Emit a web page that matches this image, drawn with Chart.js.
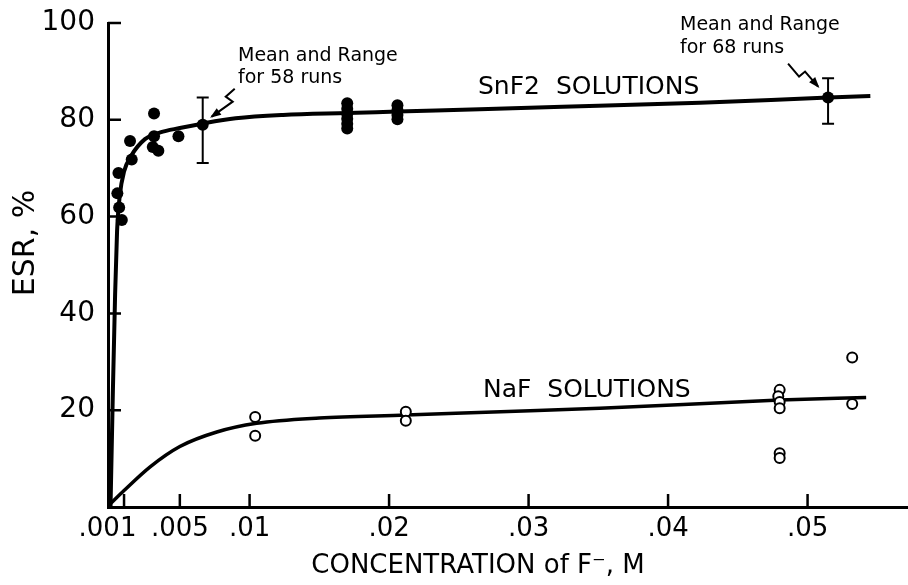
<!DOCTYPE html>
<html>
<head>
<meta charset="utf-8">
<style>
  html, body { margin: 0; padding: 0; background: #fff; }
  canvas { display: block; }
</style>
</head>
<body>
<canvas id="esrChart" width="908" height="585"></canvas>

<script src="https://cdn.jsdelivr.net/npm/chart.js"></script>

<script>
// fitted curves
const snCurveX = [0.00003, 0.0002, 0.00036, 0.0005, 0.0007, 0.001, 0.0015, 0.0025, 0.0036, 0.005, 0.0066, 0.009, 0.0124, 0.017, 0.0206, 0.0265, 0.035, 0.0423, 0.0515, 0.0545];
const snCurveY = [0, 24, 44, 57, 64.5, 69.3, 72.5, 76, 77.4, 78.3, 79.2, 80.3, 81.0, 81.4, 81.7, 82.2, 82.9, 83.5, 84.6, 84.9];
const nafCurveX = [0, 0.001, 0.00287, 0.005, 0.00765, 0.0105, 0.015, 0.0212, 0.028, 0.0351, 0.048, 0.0542];
const nafCurveY = [0.6, 3.4, 8.3, 12.5, 15.5, 17.3, 18.4, 19.0, 19.7, 20.4, 22.1, 22.6];

// SnF2 measurements (filled dots)
const snPtsX = [0.0006, 0.00052, 0.00065, 0.00084, 0.00143, 0.00155, 0.00315, 0.00315, 0.00306, 0.00346, 0.0049,
  0.017, 0.017, 0.017, 0.017, 0.017, 0.017, 0.0206, 0.0206, 0.0206, 0.0206];
const snPtsY = [69.0, 64.8, 61.9, 59.3, 75.6, 71.8, 81.3, 76.6, 74.4, 73.6, 76.6,
  83.4, 82.3, 81.2, 80.2, 79.2, 78.2, 83.0, 82.0, 81.0, 80.1];

// NaF measurements (open circles)
const nafPtsX = [0.0104, 0.0104, 0.0212, 0.0212, 0.048, 0.0479, 0.048, 0.048, 0.048, 0.048, 0.0532, 0.0532];
const nafPtsY = [18.6, 14.7, 19.7, 17.8, 24.2, 22.9, 21.7, 20.4, 11.1, 10.1, 30.9, 21.3];

// mean and range markers
const meanX = [0.00664, 0.05147];
const meanY = [79.0, 84.6];
const rangeLow = [71.1, 79.2];
const rangeHigh = [84.6, 88.6];

const xTicks = [0.001, 0.005, 0.01, 0.02, 0.03, 0.04, 0.05];
const yTicks = [20, 40, 60, 80, 100];

const FONT = "'DejaVu Sans', sans-serif";

const toXY = (xs, ys) => xs.map((v, i) => ({ x: v, y: ys[i] }));

// keep the plot box fixed: no extra room reserved for edge labels
const fixBox = (s, w, h) => {
  if (w) s.width = w;
  if (h) s.height = h;
  s.paddingTop = s.paddingBottom = s.paddingLeft = s.paddingRight = 0;
};

// tick marks point inward, plus error bars and the hand-lettered notes
const decor = {
  id: 'decor',
  afterDatasetsDraw(chart) {
    const { ctx, chartArea: a, scales: { x, y } } = chart;
    ctx.save();
    ctx.strokeStyle = '#000';
    ctx.fillStyle = '#000';

    ctx.lineWidth = 2.5;
    ctx.beginPath();
    xTicks.forEach(v => {
      const px = x.getPixelForValue(v);
      ctx.moveTo(px, a.bottom);
      ctx.lineTo(px, a.bottom - 13);
    });
    yTicks.forEach(v => {
      const py = y.getPixelForValue(v);
      ctx.moveTo(a.left, py);
      ctx.lineTo(a.left + 13, py);
    });
    ctx.stroke();

    // range bars
    ctx.lineWidth = 2;
    meanX.forEach((v, i) => {
      const px = x.getPixelForValue(v);
      const lo = y.getPixelForValue(rangeLow[i]);
      const hi = y.getPixelForValue(rangeHigh[i]);
      ctx.beginPath();
      ctx.moveTo(px, lo); ctx.lineTo(px, hi);
      ctx.moveTo(px - 6, lo); ctx.lineTo(px + 6, lo);
      ctx.moveTo(px - 6, hi); ctx.lineTo(px + 6, hi);
      ctx.stroke();
    });

    // squiggly arrows, relative to each mean point
    const arrowOffsets = [
      [[32, -36], [23, -28], [30, -23], [9, -8]],
      [[-40, -34], [-29, -21], [-23, -26], [-10, -11]]
    ];
    arrowOffsets.forEach((offs, i) => {
      const mx = x.getPixelForValue(meanX[i]);
      const my = y.getPixelForValue(meanY[i]);
      const pts = offs.map(o => [mx + o[0], my + o[1]]);
      ctx.lineWidth = 2;
      ctx.beginPath();
      ctx.moveTo(pts[0][0], pts[0][1]);
      for (let k = 1; k < pts.length; k++) ctx.lineTo(pts[k][0], pts[k][1]);
      ctx.stroke();
      const [tx, ty] = pts[pts.length - 1];
      const [sx, sy] = pts[pts.length - 2];
      const ang = Math.atan2(ty - sy, tx - sx);
      ctx.beginPath();
      ctx.moveTo(tx + 2 * Math.cos(ang), ty + 2 * Math.sin(ang));
      ctx.lineTo(tx - 9 * Math.cos(ang) + 4 * Math.sin(ang), ty - 9 * Math.sin(ang) - 4 * Math.cos(ang));
      ctx.lineTo(tx - 9 * Math.cos(ang) - 4 * Math.sin(ang), ty - 9 * Math.sin(ang) + 4 * Math.cos(ang));
      ctx.closePath();
      ctx.fill();
    });

    // notes
    ctx.textAlign = 'left';
    ctx.textBaseline = 'alphabetic';
    ctx.font = '19px ' + FONT;
    ctx.fillText('Mean and Range', 238, 61);
    ctx.fillText('for 58 runs', 238, 83);
    ctx.fillText('Mean and Range', 680, 30);
    ctx.fillText('for 68 runs', 680, 53);

    ctx.font = '25px ' + FONT;
    ctx.fillText('SnF2  SOLUTIONS', 478, 94);
    ctx.fillText('NaF  SOLUTIONS', 483, 397);

    // axis titles
    ctx.textAlign = 'center';
    ctx.textBaseline = 'middle';
    ctx.font = '26px ' + FONT;
    ctx.fillText('CONCENTRATION of F\u207B, M', 478, 566);
    ctx.save();
    ctx.translate(26, 243);
    ctx.rotate(-Math.PI / 2);
    ctx.font = '30px ' + FONT;
    ctx.fillText('ESR, %', 0, 0);
    ctx.restore();

    ctx.restore();
  }
};

new Chart(document.getElementById('esrChart'), {
  type: 'scatter',
  data: {
    datasets: [
      {
        label: 'SnF2 curve',
        type: 'line',
        data: toXY(snCurveX, snCurveY),
        borderColor: '#000',
        borderWidth: 4,
        pointRadius: 0,
        cubicInterpolationMode: 'monotone',
        order: 3
      },
      {
        label: 'NaF curve',
        type: 'line',
        data: toXY(nafCurveX, nafCurveY),
        borderColor: '#000',
        borderWidth: 3.5,
        pointRadius: 0,
        cubicInterpolationMode: 'monotone',
        order: 3
      },
      {
        label: 'SnF2 solutions',
        data: toXY(snPtsX, snPtsY),
        backgroundColor: '#000',
        borderColor: '#000',
        pointRadius: 6,
        borderWidth: 0,
        order: 1
      },
      {
        label: 'NaF solutions',
        data: toXY(nafPtsX, nafPtsY),
        backgroundColor: '#fff',
        borderColor: '#000',
        pointRadius: 5,
        borderWidth: 2,
        order: 1
      },
      {
        label: 'Mean',
        data: toXY(meanX, meanY),
        backgroundColor: '#000',
        borderColor: '#000',
        pointRadius: 6,
        borderWidth: 0,
        order: 1
      }
    ]
  },
  options: {
    responsive: false,
    animation: false,
    layout: { autoPadding: false, padding: { top: 23, right: 0, bottom: 0, left: 0 } },
    plugins: {
      legend: { display: false },
      tooltip: { enabled: false }
    },
    scales: {
      x: {
        type: 'linear',
        min: -0.00015,
        max: 0.0572,
        afterBuildTicks: s => { s.ticks = xTicks.map(v => ({ value: v })); },
        afterFit: s => fixBox(s, 0, 78),
        grid: { display: false, drawTicks: false },
        border: { display: true, color: '#000', width: 3 },
        ticks: {
          autoSkip: false,
          maxRotation: 0,
          padding: 7,
          color: '#000',
          font: { family: FONT, size: 26 },
          // the crowded .001 label sits left of its tick in the original
          callback: v => {
            const s = String(v).replace(/^0/, '');
            return v === 0.001 ? s + '    ' : s;
          }
        }
      },
      y: {
        min: 0,
        max: 100,
        afterBuildTicks: s => { s.ticks = yTicks.map(v => ({ value: v })); },
        afterFit: s => fixBox(s, 108, 0),
        grid: { display: false, drawTicks: false },
        border: { display: true, color: '#000', width: 3 },
        ticks: {
          padding: 13,
          color: '#000',
          font: { family: FONT, size: 28 }
        }
      }
    }
  },
  plugins: [decor]
});
</script>
</body>
</html>
